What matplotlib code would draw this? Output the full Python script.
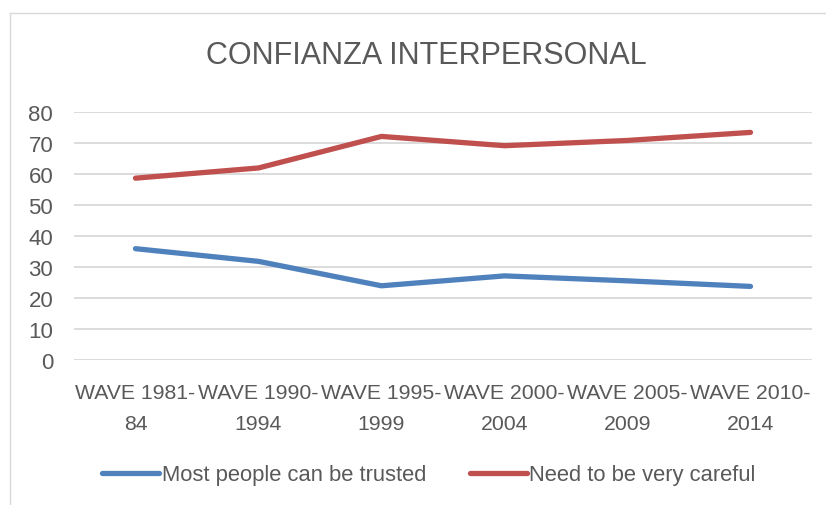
import matplotlib
matplotlib.use("Agg")
import matplotlib.pyplot as plt
from matplotlib.lines import Line2D

categories = ["WAVE 1981-\n84", "WAVE 1990-\n1994", "WAVE 1995-\n1999",
              "WAVE 2000-\n2004", "WAVE 2005-\n2009", "WAVE 2010-\n2014"]
trusted = [35.9, 31.8, 23.9, 27.1, 25.5, 23.7]
careful = [58.7, 62.0, 72.2, 69.2, 70.9, 73.5]
yticks = [0, 10, 20, 30, 40, 50, 60, 70, 80]

plt.rcParams['font.family'] = ['Liberation Sans', 'DejaVu Sans']
txt = '#595959'

fig = plt.figure(figsize=(8.26, 5.06), dpi=100)
ax = fig.add_axes([74/826, 1-360.7/506, (812-74)/826, (360.7-113.3)/506])

x = list(range(len(categories)))
ax.plot(x, trusted, color='#4F81BD', lw=3.8, solid_capstyle='round', label='Most people can be trusted', zorder=3)
ax.plot(x, careful, color='#C0504D', lw=3.8, solid_capstyle='round', label='Need to be very careful', zorder=3)

ax.set_xlim(-0.5, len(categories)-0.5)
ax.set_ylim(0, 80)
ax.set_yticks(yticks)
ax.set_xticks(x)
ax.set_xticklabels(categories)
ax.grid(axis='y', color='#D9D9D9', lw=1.3)
ax.set_axisbelow(True)
for s in ax.spines.values():
    s.set_visible(False)
ax.tick_params(axis='y', length=0, labelsize=16, labelcolor=txt, pad=15)
ax.tick_params(axis='x', length=0, labelsize=15.3, labelcolor=txt, pad=17)
for t in ax.get_xticklabels():
    t.set_linespacing(1.8)

fig.text(426/826, 1-56/506, 'CONFIANZA INTERPERSONAL', ha='center', va='center',
         fontsize=22, color=txt)

fig.legend(loc='center', bbox_to_anchor=(429/826, 1-476/506), ncol=2, frameon=False,
           fontsize=15.8, labelcolor=txt, handlelength=2.6, handletextpad=0.1,
           columnspacing=2.0)

# chart border
fig.add_artist(Line2D([10/826, 10/826], [0, 1-14/506], transform=fig.transFigure, color='#D9D9D9', lw=1))
fig.add_artist(Line2D([10/826, 1], [1-14/506, 1-14/506], transform=fig.transFigure, color='#D9D9D9', lw=1))

fig.savefig('out.png', dpi=100)
